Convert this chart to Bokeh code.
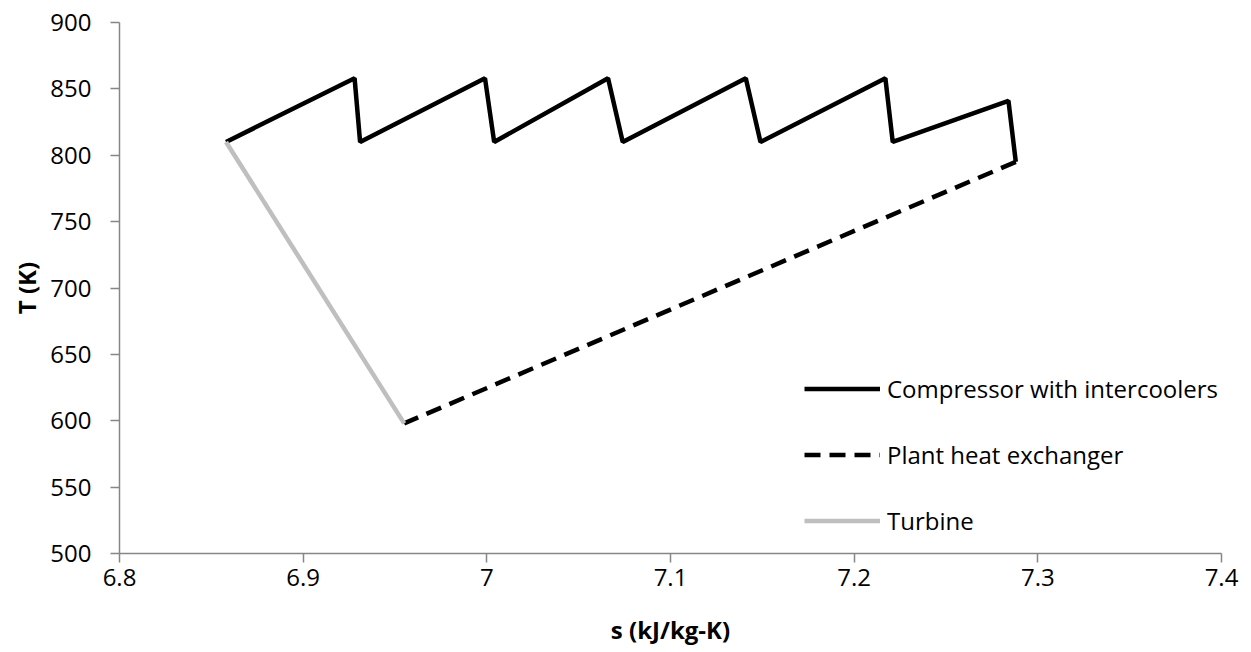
from bokeh.plotting import figure
from bokeh.models import Range1d, Legend, LegendItem, FixedTicker
from bokeh.embed import file_html
from bokeh.resources import INLINE

# Data
s_comp = [6.858, 6.928, 6.931, 6.999, 7.004, 7.066, 7.074, 7.141, 7.149, 7.217, 7.221, 7.284, 7.288]
T_comp = [810, 858, 810, 858, 810, 858, 810, 858, 810, 858, 810, 841, 795]
s_hx = [7.288, 6.955]
T_hx = [795, 598]
s_turb = [6.955, 6.858]
T_turb = [598, 810]
x_ticks = [6.8, 6.9, 7.0, 7.1, 7.2, 7.3, 7.4]
y_ticks = [500, 550, 600, 650, 700, 750, 800, 850, 900]

FONT = "Open Sans"

p = figure(width=1251, height=652, output_backend="svg", toolbar_location=None,
           x_range=Range1d(6.8, 7.4), y_range=Range1d(500, 900),
           min_border_left=119, min_border_right=30, min_border_top=22, min_border_bottom=99)
p.outline_line_color = None
p.xgrid.visible = False
p.ygrid.visible = False

r1 = p.line(s_comp, T_comp, line_color="black", line_width=4.5)
r2 = p.line(s_hx, T_hx, line_color="black", line_width=4.5, line_dash="16 9")
r3 = p.line(s_turb, T_turb, line_color="#BFBFBF", line_width=4.5)

for ax in (p.xaxis[0], p.yaxis[0]):
    ax.axis_line_color = "#868686"
    ax.axis_line_width = 1.5
    ax.major_tick_line_color = "#868686"
    ax.major_tick_line_width = 1.5
    ax.major_tick_out = 9
    ax.major_tick_in = 0
    ax.minor_tick_line_color = None
    ax.major_label_text_font = FONT
    ax.major_label_text_font_size = "24px"
    ax.major_label_text_color = "black"
    ax.axis_label_text_font = FONT
    ax.axis_label_text_font_size = "24px"
    ax.axis_label_text_font_style = "bold"
    ax.axis_label_text_color = "black"

p.xaxis[0].ticker = FixedTicker(ticks=x_ticks)
p.yaxis[0].ticker = FixedTicker(ticks=y_ticks)
p.xaxis[0].major_label_overrides = {6.8: "6.8", 6.9: "6.9", 7.0: "7", 7.1: "7.1", 7.2: "7.2", 7.3: "7.3", 7.4: "7.4"}
p.xaxis[0].axis_label = "s (kJ/kg-K)"
p.yaxis[0].axis_label = "T (K)"
p.xaxis[0].major_label_standoff = 6
p.yaxis[0].major_label_standoff = 19
p.xaxis[0].axis_label_standoff = 24
p.yaxis[0].axis_label_standoff = 4

legend = Legend(items=[
    LegendItem(label="Compressor with intercoolers", renderers=[r1]),
    LegendItem(label="Plant heat exchanger", renderers=[r2]),
    LegendItem(label="Turbine", renderers=[r3]),
], location=(685, 16))
legend.border_line_color = None
legend.background_fill_alpha = 0
legend.padding = 0
legend.margin = 0
legend.glyph_width = 76
legend.glyph_height = 33
legend.label_height = 33
legend.spacing = 33
legend.label_standoff = 7
legend.label_text_font = FONT
legend.label_text_font_size = "24px"
legend.label_text_color = "black"
p.add_layout(legend, "center")

open("out.html", "w").write(file_html(p, INLINE))
